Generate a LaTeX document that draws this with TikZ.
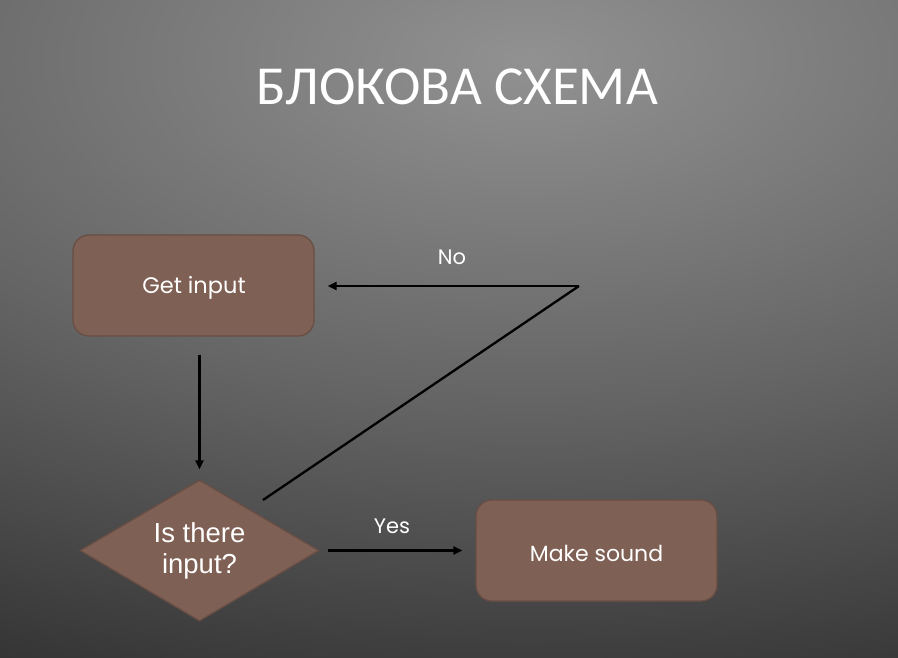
\documentclass[tikz,border=0pt]{standalone}
\usepackage{fontspec}
\setmainfont{Carlito}
\newfontfamily\boxfont{Poppins}
\newfontfamily\armfont{Liberation Sans}
\usetikzlibrary{shapes.geometric,arrows.meta,calc}

\definecolor{boxfill}{RGB}{127,96,84}
\definecolor{boxline}{RGB}{104,78,68}

% soft grey backdrop, brightest near the top centre
\pgfdeclareradialshading{backdrop}{\pgfpoint{0bp}{0bp}}{%
  color(0bp)=(black!43);
  color(25bp)=(black!61);
  color(50bp)=(black!82)}

\tikzset{
  stepbox/.style={draw=boxline, line width=1.3pt, fill=boxfill,
    rounded corners=16pt, minimum width=241pt, minimum height=101pt,
    inner sep=0pt, text=white},
  steptext/.style={font=\boxfont\fontsize{22.5}{26}\selectfont},
  decision/.style={diamond, draw=boxline, line width=1.3pt, fill=boxfill,
    minimum width=239pt, minimum height=141pt, shape aspect=1.7,
    inner sep=0pt, text=white, align=center,
    font=\armfont\fontsize{27.5}{31}\selectfont},
  flow/.style={draw=black, line width=2.3pt,
    -{Triangle[length=9pt,width=8pt]}},
  plain/.style={draw=black, line width=2.3pt},
  tag/.style={text=white, font=\boxfont\fontsize{21}{24}\selectfont}
}

\begin{document}
\begin{tikzpicture}[x=1pt, y=-1pt]
  \useasboundingbox (0,0) rectangle (898,657);
  \begin{scope}
    \clip (0,0) rectangle (898,657);
    % elliptical glow: 1400pt wide radius, 700pt tall radius
    \pgftransformshift{\pgfpoint{530pt}{-60pt}}
    \pgftransformxscale{27.9}
    \pgftransformyscale{13.95}
    \pgflowlevelsynccm
    \pgfuseshading{backdrop}
  \end{scope}

  \node[text=white, font=\fontsize{55}{60}\selectfont] (title) at (457,87) {БЛОКОВА СХЕМА};

  \node[stepbox] (get) at (193.5,285.5) {};
  \node[steptext, text=white] (gettext) at (194,288) {Get input};
  \node[decision] (dia) at (199.5,550.5) {Is there\\input?};
  \node[stepbox] (snd) at (596.5,550.5) {};
  \node[steptext, text=white, font=\boxfont\fontsize{22}{26}\selectfont] (sndtext) at (596.5,553) {Make sound};

  \coordinate (loopstart) at (263,500);
  \coordinate (corner) at (579,286);

  \draw[flow] ($(dia.north |- get.south)+(0,18)$) -- ([yshift=10pt]dia.north);
  \draw[plain, line join=miter] (loopstart) -- (corner);
  \draw[flow] (corner) -- ([xshift=13pt]get.east |- corner);
  \draw[flow] ([xshift=8pt]dia.east) -- ([xshift=-13pt]snd.west);

  \node[tag] (no) at (452,257) {No};
  \node[tag] (yes) at (392,526) {Yes};
\end{tikzpicture}
\end{document}
